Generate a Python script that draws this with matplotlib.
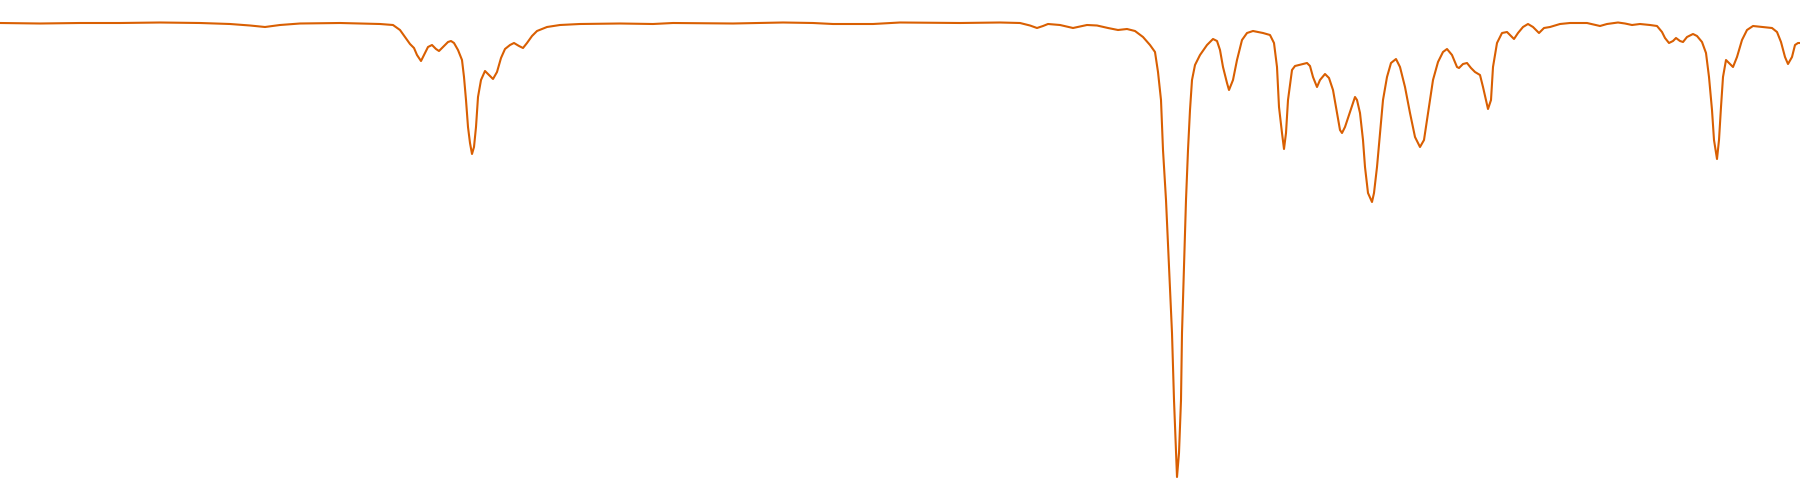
import matplotlib
matplotlib.use("Agg")
import matplotlib.pyplot as plt

# position along the spectrum (arbitrary units)
pos = [0, 40, 80, 120, 160, 200, 230, 250, 265, 280, 300, 340, 380, 393,
       400, 405, 410, 414, 417, 421, 424, 428, 432, 436, 439, 443, 448, 451,
       454, 458, 462, 464, 466, 468, 470, 472, 474, 476, 478, 481, 485, 490,
       493, 497, 501, 505, 510, 514, 519, 523, 527, 532, 537, 547, 560, 580,
       620, 653, 673, 733, 783, 813, 833, 873, 900, 960, 1000, 1020, 1030,
       1037, 1043, 1048, 1060, 1073, 1087, 1097, 1108, 1118, 1127, 1135, 1143,
       1150, 1155, 1158, 1161, 1163, 1166, 1169, 1172, 1174, 1176, 1177, 1179,
       1181, 1182, 1184, 1186, 1188, 1190, 1192, 1195, 1200, 1207, 1213, 1217,
       1220, 1223, 1227, 1229, 1233, 1237, 1242, 1247, 1253, 1263, 1270, 1274,
       1277, 1279, 1282, 1284, 1286, 1288, 1292, 1295, 1303, 1307, 1310, 1313,
       1317, 1320, 1325, 1329, 1333, 1337, 1340, 1342, 1345, 1350, 1355, 1357,
       1360, 1363, 1365, 1368, 1372, 1374, 1377, 1380, 1383, 1387, 1391, 1396,
       1400, 1405, 1410, 1415, 1420, 1424, 1428, 1433, 1438, 1443, 1447, 1452,
       1457, 1459, 1463, 1467, 1471, 1475, 1480, 1483, 1486, 1488, 1491, 1493,
       1497, 1502, 1507, 1510, 1514, 1518, 1523, 1528, 1533, 1539, 1544, 1550,
       1560, 1570, 1587, 1600, 1607, 1618, 1625, 1632, 1640, 1650, 1657, 1662,
       1665, 1669, 1673, 1676, 1680, 1683, 1687, 1693, 1697, 1702, 1706, 1709,
       1712, 1714, 1717, 1719, 1721, 1723, 1726, 1729, 1733, 1737, 1742, 1747,
       1753, 1763, 1772, 1777, 1781, 1785, 1788, 1792, 1795, 1798, 1800]

# transmittance (%)
trans = [95.4, 95.3, 95.4, 95.4, 95.5, 95.4, 95.2, 94.9, 94.6, 95.0, 95.3, 95.4, 95.2, 95.0,
         94.0, 92.6, 91.2, 90.4, 89.0, 87.8, 89.0, 90.6, 91.0, 90.2, 89.8, 90.6, 91.6, 91.8,
         91.4, 90.0, 88.0, 84.6, 80.0, 74.6, 71.4, 69.2, 70.6, 74.6, 80.6, 84.0, 85.8, 84.8,
         84.2, 85.6, 88.4, 90.2, 91.0, 91.4, 90.8, 90.4, 91.4, 92.8, 93.8, 94.6, 95.0, 95.2,
         95.3, 95.2, 95.4, 95.3, 95.5, 95.4, 95.2, 95.2, 95.5, 95.4, 95.5, 95.4, 94.9,
         94.4, 94.8, 95.2, 95.0, 94.4, 95.0, 94.9, 94.4, 94.0, 94.2, 93.8, 92.6,
         91.0, 89.6, 85.6, 80.0, 70.0, 60.0, 46.6, 33.4, 20.0, 9.4, 4.6, 9.4,
         20.0, 33.4, 46.6, 60.0, 70.0, 78.0, 84.0, 87.0, 89.0, 91.0, 92.2, 91.8,
         90.0, 86.6, 83.4, 82.0, 84.0, 88.0, 92.0, 93.4, 93.8, 93.4, 93.0, 91.4,
         86.6, 78.6, 73.4, 70.2, 73.4, 80.0, 86.0, 86.8, 87.2, 87.4, 86.8, 84.6,
         82.6, 84.0, 85.2, 84.4, 82.0, 77.4, 74.0, 73.4, 74.6, 77.6, 80.6, 80.0,
         77.4, 72.0, 66.6, 61.4, 59.6, 61.4, 66.6, 73.4, 80.0, 84.6, 87.4, 88.2,
         86.6, 82.6, 77.4, 72.6, 70.6, 72.0, 77.4, 84.0, 87.6, 89.6, 90.2, 89.0,
         86.6, 86.4, 87.2, 87.4, 86.4, 85.6, 85.0, 82.6, 80.0, 78.2, 80.0, 86.6,
         91.4, 93.4, 93.6, 93.0, 92.2, 93.4, 94.6, 95.2, 94.6, 93.4, 94.4, 94.6,
         95.2, 95.4, 95.4, 94.8, 95.2, 95.5, 95.3, 95.0, 95.2, 95.0, 94.8, 93.6,
         92.4, 91.4, 91.8, 92.4, 91.8, 91.6, 92.6, 93.2, 92.8, 91.6, 89.4, 84.6,
         78.0, 72.0, 68.2, 72.0, 78.6, 84.6, 88.0, 87.4, 86.6, 88.6, 92.0, 94.0,
         94.8, 94.6, 94.4, 93.6, 91.6, 88.6, 87.2, 88.6, 91.0, 91.4, 91.4]

fig = plt.figure(figsize=(18, 5), dpi=100)
ax = fig.add_axes([0, 0, 1, 1])
ax.plot(pos, trans, color="#d95f02", lw=1.5, solid_joinstyle="round")
ax.set_xlim(0, 1800)
ax.set_ylim(0, 100)
ax.axis("off")

fig.savefig("out.png", dpi=100)
